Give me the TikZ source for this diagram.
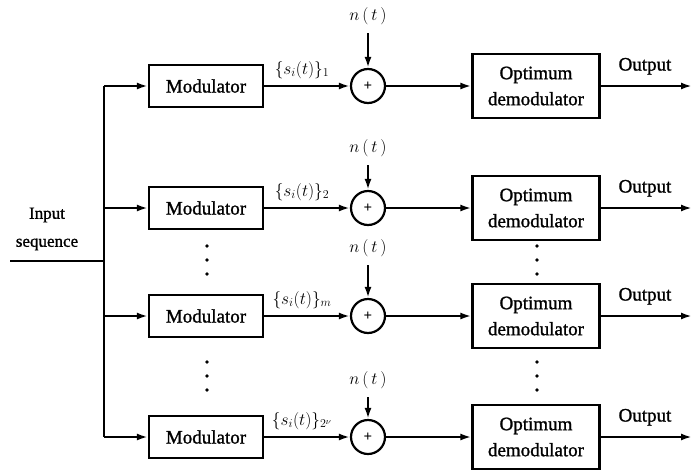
\documentclass[tikz,border=0pt]{standalone}
\usepackage{fontspec}
\setmainfont{Liberation Serif}
\newfontfamily\scanfont{Liberation Serif}[FakeBold=1.2]
\usetikzlibrary{arrows.meta}
\begin{document}
\begin{tikzpicture}[x=1pt,y=-1pt,
  line width=2.2pt,
  modbox/.style={draw, minimum width=114pt, minimum height=42pt, inner sep=0pt, font=\scanfont\fontsize{19}{22}\selectfont},
  demodbox/.style={draw, minimum width=127pt, minimum height=64pt, align=center, inner sep=0pt, font=\scanfont\fontsize{19}{26}\selectfont},
  sumnode/.style={draw, circle, minimum size=34pt, inner sep=0pt, font=\fontsize{15}{15}\selectfont\bfseries},
  lbl/.style={font=\scanfont\fontsize{19}{22}\selectfont},
  mlbl/.style={font=\fontsize{18}{20}\selectfont},
  arr/.style={-{Latex[length=11pt,width=7pt]}},
  dotm/.style={circle, fill, inner sep=0pt, minimum size=3.8pt}
]
\useasboundingbox (0,0) rectangle (693,474);
% bus and input
\coordinate (b1) at (104,86);
\coordinate (b2) at (104,208);
\coordinate (b3) at (104,316);
\coordinate (b4) at (104,437);
\coordinate (in) at (10,261);
\coordinate (bin) at (104,261);
\draw (b1) -- (b4);
\draw (in) -- (bin);
\node[lbl, align=center, font=\scanfont\fontsize{17}{28}\selectfont] (inlbl) at (47,229) {Input\\sequence};
% branches
\foreach \i/\y/\sub/\nl in {1/86/1/16, 2/208/2/148, 3/316/m/248, 4/437/{2^{\nu}}/380} {
  \node[modbox] (m\i) at (206,\y) {Modulator};
  \node[sumnode] (s\i) at (368,\y) {+};
  \node[demodbox] (d\i) at (536,\y) {Optimum\\demodulator};
  \node[mlbl] (n\i) at (368,\nl) {$n\,(\,t\,)$};
  \node[mlbl, anchor=south] (l\i) at (302,\y-3) {$\{s_i(t)\}_{\sub}$};
  \node[lbl, anchor=south] (op\i) at (645,\y-7) {Output};
  \coordinate (o\i) at (692,\y);
  \draw[arr] (b\i) -- (m\i.west);
  \draw[arr] (m\i.east) -- (s\i.west);
  \draw[arr, shorten <=4pt] (n\i.south) -- (s\i.north);
  \draw[arr] (s\i.east) -- (d\i.west);
  \draw[arr] (d\i.east) -- (o\i);
}
% dots
\foreach \y [count=\k] in {246,260,274,362,376,390} {
  \node[dotm] (pm\k) at (207,\y) {};
  \node[dotm] (pd\k) at (537,\y) {};
}
\end{tikzpicture}
\end{document}
